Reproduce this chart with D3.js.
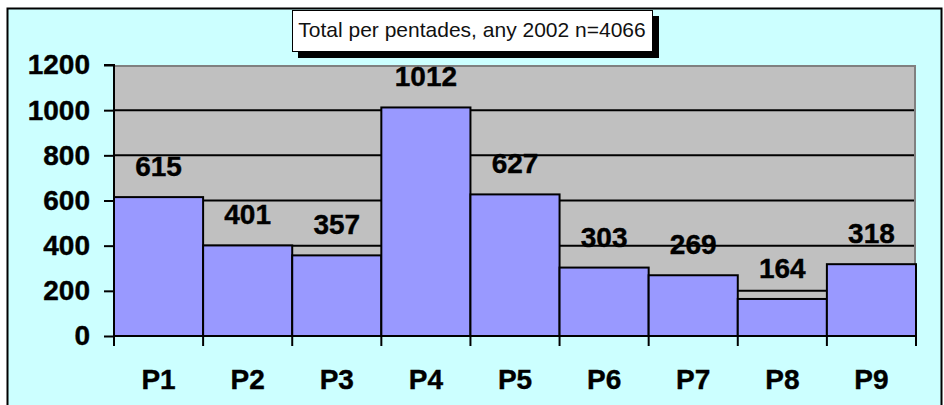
<!DOCTYPE html>
<html><head><meta charset="utf-8">
<script src="https://cdn.jsdelivr.net/npm/d3@7"></script>
<style>body{margin:0;background:#fff;}svg{display:block;font-family:"Liberation Sans",Arial,sans-serif;}</style>
</head><body>
<svg id="c" width="944" height="405"></svg>
<script>
const categories = ["P1","P2","P3","P4","P5","P6","P7","P8","P9"];
const values = [615, 401, 357, 1012, 627, 303, 269, 164, 318];
const yTicks = [0, 200, 400, 600, 800, 1000, 1200];
const title = "Total per pentades, any 2002 n=4066";

const svg = d3.select("#c");
// outer chart area
svg.append("rect").attr("x",7.5).attr("y",8.5).attr("width",934).attr("height",420)
  .attr("fill","#CCFFFF").attr("stroke","#000").attr("stroke-width",2);

const L=114, R=916, T=65, B=336;
const x = d3.scaleBand().domain(categories).range([L,R]).paddingInner(0).paddingOuter(0);
const y = d3.scaleLinear().domain([0,1200]).range([B,T]);

// plot background
svg.append("rect").attr("x",L).attr("y",T).attr("width",R-L).attr("height",B-T).attr("fill","#C0C0C0");
// plot top and right border
svg.append("path").attr("d",`M${L},${T+1}H${R-1}V${B}`).attr("fill","none").attr("stroke","#808080").attr("stroke-width",2);

// gridlines
svg.append("g").selectAll("line").data(yTicks.filter(v=>v>0 && v<1200)).join("line")
  .attr("x1",L).attr("x2",R-2).attr("y1",d=>y(d)).attr("y2",d=>y(d))
  .attr("stroke","#000").attr("stroke-width",2);

// bars
svg.append("g").selectAll("rect").data(values).join("rect")
  .attr("x",(d,i)=>x(categories[i])).attr("y",d=>y(d))
  .attr("width",x.bandwidth()).attr("height",d=>B-y(d))
  .attr("fill","#9999FF").attr("stroke","#000").attr("stroke-width",2);

// y axis
const yAxis = d3.axisLeft(y).tickValues(yTicks).tickSize(10).tickPadding(14).tickFormat(d3.format("d"));
const gy = svg.append("g").attr("transform",`translate(${L},0)`).call(yAxis);
gy.select(".domain").attr("stroke","#000").attr("stroke-width",2).attr("d",`M-10,${T}H0V${B}`);
gy.selectAll(".tick line").attr("stroke","#000").attr("stroke-width",2);
gy.selectAll(".tick text").attr("fill","#000").attr("font-size",28).attr("font-weight","bold")
  .attr("font-family","Liberation Sans, Arial, sans-serif").attr("stroke","#000").attr("stroke-width",0.4);

// x axis: ticks at category boundaries
const bounds = categories.map(c=>x(c)).concat([R]);
svg.append("line").attr("x1",L).attr("x2",R).attr("y1",B).attr("y2",B).attr("stroke","#000").attr("stroke-width",2);
svg.append("g").selectAll("line").data(bounds).join("line")
  .attr("x1",d=>d).attr("x2",d=>d).attr("y1",B).attr("y2",B+10).attr("stroke","#000").attr("stroke-width",2);
svg.append("g").selectAll("text").data(categories).join("text")
  .attr("x",d=>x(d)+x.bandwidth()/2).attr("y",389).attr("text-anchor","middle")
  .attr("font-size",28).attr("font-weight","bold").attr("stroke","#000").attr("stroke-width",0.4).text(d=>d);

// value labels
svg.append("g").selectAll("text").data(values).join("text")
  .attr("x",(d,i)=>x(categories[i])+x.bandwidth()/2).attr("y",d=>y(d)-21).attr("text-anchor","middle")
  .attr("font-size",28).attr("font-weight","bold").attr("stroke","#000").attr("stroke-width",0.4).text(d=>d);

// title box
svg.append("rect").attr("x",298).attr("y",16).attr("width",361).attr("height",42).attr("fill","#000");
svg.append("rect").attr("x",292.5).attr("y",10.5).attr("width",360).attr("height",41).attr("fill","#fff").attr("stroke","#000").attr("stroke-width",1);
svg.append("text").attr("x",472).attr("y",37).attr("text-anchor","middle").attr("font-size",21).attr("fill","#111").text(title);
</script>
</body></html>
